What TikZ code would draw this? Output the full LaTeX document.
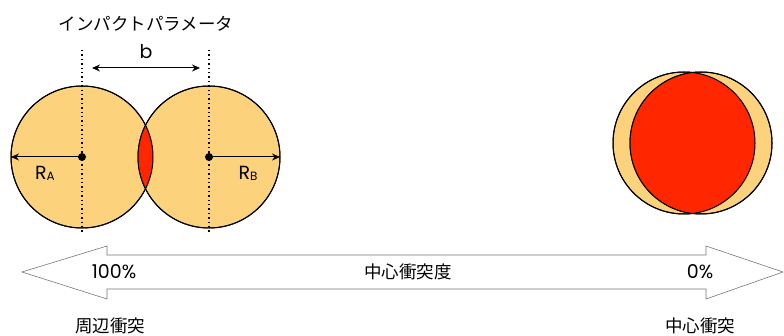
\documentclass[tikz,border=0pt]{standalone}
\usepackage{fontspec}
\usetikzlibrary{arrows.meta}
\setmainfont{Poppins}
\newfontfamily\jp{Noto Sans CJK JP}
\definecolor{melon}{RGB}{252,210,124}
\definecolor{hot}{RGB}{255,38,0}
\definecolor{arrowgray}{RGB}{120,120,120}
\begin{document}
\begin{tikzpicture}[x=1pt,y=-1pt,
  ball/.style={circle,fill=melon,draw=black,line width=1pt,minimum size=142pt,inner sep=0pt,outer sep=0pt},
  dotline/.style={line width=1.4pt,dash pattern=on 1.4pt off 3pt},
  dimarrow/.style={line width=1pt,{Stealth[length=8pt,width=7pt]}-{Stealth[length=8pt,width=7pt]}},
  radarrow/.style={line width=1pt,-{Stealth[length=8pt,width=7pt]}},
  lbl/.style={font=\fontsize{19}{22}\selectfont,inner sep=0pt},
  jlbl/.style={font=\jp\fontsize{17.5}{20}\selectfont,inner sep=0pt},
  dot/.style={circle,fill=black,minimum size=8pt,inner sep=0pt}]
\useasboundingbox (0,0) rectangle (784,336);

% left pair of nuclei
\node[ball] (A) at (82,157) {};
\node[ball] (B) at (209,157) {};
\begin{scope}
  \clip (A.center) circle (71pt);
  \fill[hot] (B.center) circle (71pt);
\end{scope}
\draw[line width=1pt] (A.center) circle (71pt);
\draw[line width=1pt] (B.center) circle (71pt);

\coordinate (dAt) at (82,50);
\coordinate (dAb) at (82,233);
\coordinate (dBt) at (209,50);
\coordinate (dBb) at (209,233);
\draw[dotline] (dAt) -- (dAb);
\draw[dotline] (dBt) -- (dBb);

\node[dot] (cA) at (A.center) {};
\node[dot] (cB) at (B.center) {};
\draw[radarrow] (cA.center) -- (A.west);
\draw[radarrow] (cB.center) -- (B.east);

\coordinate (bL) at (92,68);
\coordinate (bR) at (200,68);
\draw[dimarrow] (bL) -- (bR);

\node[jlbl] (title) at (146,24) {インパクトパラメータ};
\node[lbl] (blabel) at (146,52) {b};
\node[lbl] (ra) at (45,173) {R\raisebox{-1pt}{\fontsize{12}{13}\selectfont A}};
\node[lbl] (rb) at (248,173) {R\raisebox{-1pt}{\fontsize{12}{13}\selectfont B}};

% right: central collision
\node[ball] (C) at (684,143) {};
\node[ball] (D) at (701,143) {};
\begin{scope}
  \clip (C.center) circle (71pt);
  \fill[hot] (D.center) circle (71pt);
\end{scope}
\draw[line width=1pt] (C.center) circle (71pt);
\draw[line width=1pt] (D.center) circle (71pt);

% big double arrow
\draw[draw=arrowgray,fill=white,line width=0.6pt]
  (22,272) -- (107,246) -- (107,255) -- (706,255) -- (706,246) -- (783,272)
  -- (706,299) -- (706,289) -- (107,289) -- (107,299) -- cycle;

\node[lbl] (p100) at (114,272) {100\%};
\node[lbl] (p0) at (700,272) {0\%};
\node[jlbl] (mid) at (408,272) {中心衝突度};
\node[jlbl] (per) at (110,326) {周辺衝突};
\node[jlbl] (cen) at (700,326) {中心衝突};
\end{tikzpicture}
\end{document}
